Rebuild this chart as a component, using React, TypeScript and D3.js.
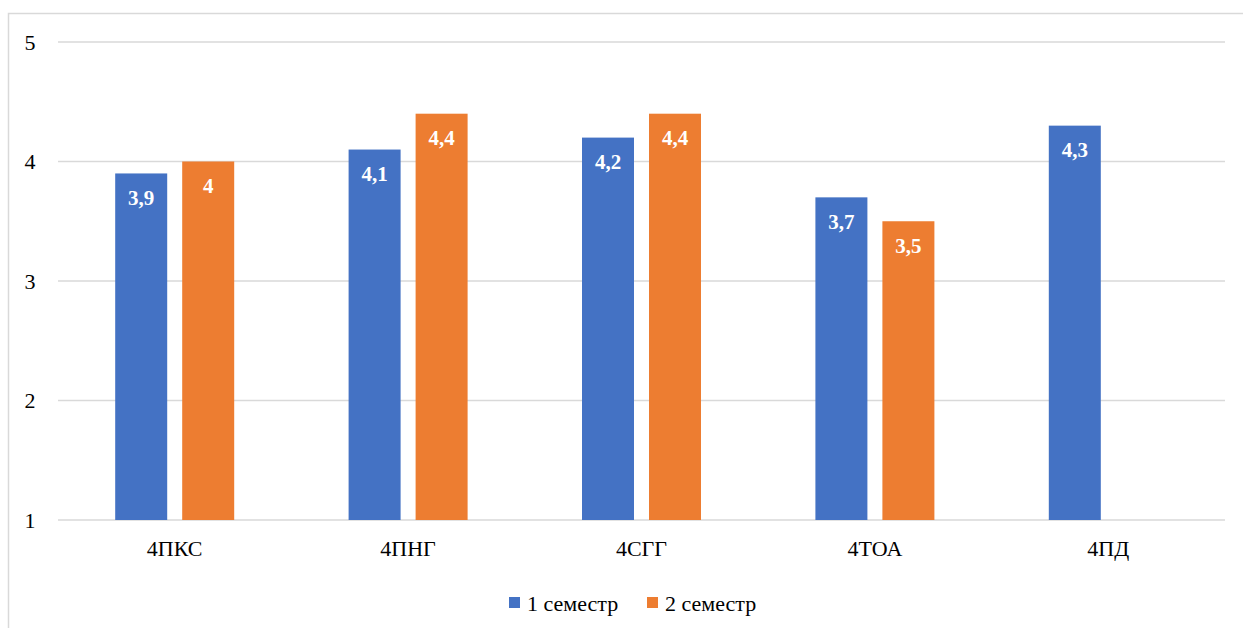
import React from "react";
import * as d3 from "d3";

const categories = ["4ПКС", "4ПНГ", "4СГГ", "4ТОА", "4ПД"];
const sem1 = [3.9, 4.1, 4.2, 3.7, 4.3];
const sem2: (number | null)[] = [4.0, 4.4, 4.4, 3.5, null];
const seriesNames = ["1 семестр", "2 семестр"];
const colors = ["#4472C4", "#ED7D31"];
const yTicks = [1, 2, 3, 4, 5];

const W = 1243;
const H = 628;
const font = "'Times New Roman', 'Liberation Serif', serif";

const fmt = (v: number) => String(v).replace(".", ",");

export default function App() {
  const x = d3.scaleBand<string>().domain(categories).range([58, 1225]);
  const y = d3.scaleLinear().domain([1, 5]).range([520, 42]);
  const barW = 52;
  const gap = 15;

  const series = [sem1, sem2];
  const txt = { fontFamily: font, fontSize: 22 } as React.CSSProperties;

  return (
    <svg width={W} height={H} style={{ position: "absolute", left: 0, top: 0, background: "#fff" }}>
      <rect x={8.5} y={13.5} width={1250} height={630} fill="#fff" stroke="#d9d9d9" strokeWidth={1.5} />
      {yTicks.map((t) => (
        <g key={t}>
          <line x1={58} x2={1225} y1={y(t)} y2={y(t)} stroke="#d9d9d9" strokeWidth={1.5} />
          <text x={30} y={y(t)} dy="0.35em" textAnchor="middle" style={txt} fill="#000">
            {t}
          </text>
        </g>
      ))}
      {categories.map((c, i) => {
        const cx = (x(c) as number) + x.bandwidth() / 2;
        return (
          <g key={c}>
            {series.map((s, si) => {
              const v = s[i];
              if (v == null) return null;
              const bx = si === 0 ? cx - gap / 2 - barW : cx + gap / 2;
              const top = y(v);
              return (
                <g key={si}>
                  <rect x={bx} y={top} width={barW} height={y(1) - top} fill={colors[si]} />
                  <text
                    x={bx + barW / 2}
                    y={top + 24}
                    textAnchor="middle"
                    style={{ ...txt, fontSize: 21, fontWeight: "bold" }}
                    fill="#fff"
                    dy="0.35em"
                  >
                    {fmt(v)}
                  </text>
                </g>
              );
            })}
            <text x={cx} y={548} dy="0.35em" textAnchor="middle" style={txt} fill="#000">
              {c}
            </text>
          </g>
        );
      })}
      {seriesNames.map((n, i) => {
        const lx = i === 0 ? 509 : 647;
        return (
          <g key={n}>
            <rect x={lx} y={597} width={11} height={11} fill={colors[i]} />
            <text x={lx + 18} y={603} dy="0.35em" style={txt} fill="#000">
              {n}
            </text>
          </g>
        );
      })}
    </svg>
  );
}
